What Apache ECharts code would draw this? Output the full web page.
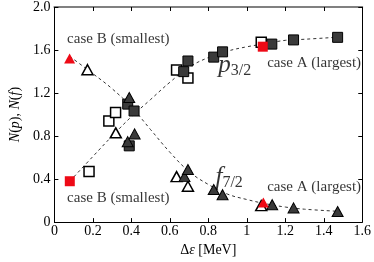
<!DOCTYPE html>
<html>
<head>
<meta charset="utf-8">
<script src="https://cdn.jsdelivr.net/npm/echarts@6/dist/echarts.min.js"></script>
<style>html,body{margin:0;padding:0;background:#fff}#c{width:374px;height:262px}</style>
</head>
<body>
<div id="c"></div>
<script>
// ---- data ----
const xTicks = [0, 0.2, 0.4, 0.6, 0.8, 1, 1.2, 1.4, 1.6];
const yTicks = [0, 0.4, 0.8, 1.2, 1.6, 2.0];

// p3/2 (squares)
const pOpen   = [[0.18,0.47],[0.283,0.94],[0.318,1.02],[0.635,1.414],[0.694,1.34],[1.075,1.673]];
const pFilled = [[0.381,1.097],[0.414,1.033],[0.389,0.709],[0.672,1.399],[0.694,1.498],[0.828,1.534],[0.874,1.583],[1.130,1.655],[1.243,1.694],[1.472,1.718]];
const pRed    = [[0.08,0.38],[1.083,1.631]];
// f7/2 (triangles)
const fOpen   = [[0.172,1.417],[0.319,0.83],[0.635,0.423],[0.694,0.333],[1.075,0.153]];
const fFilled = [[0.389,1.159],[0.381,0.748],[0.417,0.82],[0.676,0.423],[0.694,0.489],[0.828,0.303],[0.874,0.255],[1.132,0.162],[1.243,0.132],[1.472,0.099]];
const fRed    = [[0.079,1.52],[1.086,0.183]];

// dashed guide curves
const curveX = [0.08, 0.2, 0.3, 0.4, 0.5, 0.6, 0.7, 0.8, 0.9, 1.0, 1.1, 1.2, 1.3, 1.48];
const pCurveY = [0.38, 0.61, 0.80, 0.98, 1.14, 1.30, 1.44, 1.53, 1.59, 1.63, 1.66, 1.69, 1.70, 1.72];
const fCurveY = [1.54, 1.38, 1.24, 1.07, 0.86, 0.65, 0.47, 0.35, 0.26, 0.21, 0.17, 0.14, 0.12, 0.10];

// text annotations
const notes = [
  {x:0.066, y:1.70, t:'case B (smallest)'},
  {x:0.066, y:0.228, t:'case B (smallest)'},
  {x:1.106, y:1.48, t:'case A (largest)'},
  {x:1.106, y:0.324, t:'case A (largest)'}
];
const levelLabels = [
  {x:0.852, y:1.46, main:'p', sub:'3/2'},
  {x:0.837, y:0.42, main:'f', sub:'7/2'}
];

// ---- chart ----
const SERIF = 'Liberation Serif';
const chart = echarts.init(document.getElementById('c'));
const axisCommon = {
  min: 0, axisLine:{show:true, onZero:false, lineStyle:{color:'#000', width:1}},
  axisTick:{inside:true, length:4, lineStyle:{color:'#000'}},
  splitLine:{show:false}
};
function sq(data, fill, border, bw, z){
  return {type:'scatter', data, symbol:'rect', symbolSize:10, z,
    itemStyle:{color:fill, borderColor:border, borderWidth:bw, opacity:1}};
}
function tri(data, fill, border, bw, z){
  return {type:'scatter', data, symbol:'triangle', symbolSize:[11,10], z,
    itemStyle:{color:fill, borderColor:border, borderWidth:bw, opacity:1}};
}
const richName = {g:{fontFamily:SERIF, fontSize:14, color:'#000'}, i:{fontFamily:SERIF, fontSize:14, fontStyle:'italic', color:'#000'}};
chart.setOption({
  animation:false,
  textStyle:{fontFamily:SERIF},
  grid:{left:39, right:9, top:6, bottom:34},
  xAxis:[
    Object.assign({}, axisCommon, {type:'value', position:'bottom', max:1.6, interval:0.2,
      name:'{g|Δ}{i|ε} {g|[MeV]}', nameLocation:'middle', nameGap:11,
      nameTextStyle:{fontFamily:SERIF, fontSize:14, rich:richName},
      axisLabel:{fontFamily:SERIF, fontSize:14, color:'#000', margin:2,
        formatter:v=>{const t=xTicks.find(a=>Math.abs(a-v)<1e-6); return t===undefined?'':String(t);}}}),
    Object.assign({}, axisCommon, {type:'value', position:'top', max:1.6, interval:0.2,
      axisLine:{show:true, onZero:false, lineStyle:{color:'#808080', width:2}},
      axisLabel:{show:false}})
  ],
  yAxis:[
    Object.assign({}, axisCommon, {type:'value', position:'left', max:2.0, interval:0.4,
      name:'{i|N}{g|(}{i|p}{g|), }{i|N}{g|(}{i|f}{g|)}', nameLocation:'middle', nameGap:25,
      nameTextStyle:{fontFamily:SERIF, fontSize:14, rich:richName},
      axisLabel:{fontFamily:SERIF, fontSize:14, color:'#000', margin:4,
        formatter:v=>{const t=yTicks.find(a=>Math.abs(a-v)<1e-6); return t===undefined?'':(t===0?'0':t.toFixed(1));}}}),
    Object.assign({}, axisCommon, {type:'value', position:'right', max:2.0, interval:0.4,
      axisLabel:{show:false}})
  ],
  series:[
    {type:'line', data:curveX.map((x,i)=>[x,pCurveY[i]]), smooth:0.4, showSymbol:false, symbol:'none', z:1,
      lineStyle:{color:'#333', width:1, type:[3,3]}},
    {type:'line', data:curveX.map((x,i)=>[x,fCurveY[i]]), smooth:0.4, showSymbol:false, symbol:'none', z:1,
      lineStyle:{color:'#333', width:1, type:[3,3]}},
    sq(pOpen, '#fff', '#000', 1.5, 3),
    tri(fOpen, '#fff', '#000', 1.5, 3),
    sq(pFilled, '#3a3a3a', '#000', 1, 4),
    tri(fFilled, '#3a3a3a', '#000', 1, 4),
    sq(pRed, '#ee0a16', '#ee0a16', 0, 5),
    tri(fRed, '#ee0a16', '#ee0a16', 0, 5),
    {type:'scatter', symbolSize:0, z:6, silent:true,
      data:notes.map(n=>({value:[n.x,n.y], name:n.t})),
      label:{show:true, position:'inside', align:'left', verticalAlign:'middle',
        formatter:p=>p.name, fontFamily:SERIF, fontSize:15, color:'#000'}},
    {type:'scatter', symbolSize:0, z:6, silent:true,
      data:levelLabels.map(n=>({value:[n.x,n.y], name:'{m|'+n.main+'}{s|'+n.sub+'}'})),
      label:{show:true, position:'inside', align:'left', verticalAlign:'middle',
        formatter:p=>p.name, fontFamily:SERIF,
        rich:{m:{fontFamily:SERIF, fontSize:25, fontStyle:'italic', color:'#000'},
              s:{fontFamily:SERIF, fontSize:16, color:'#000', padding:[12,0,0,0]}}}}
  ]
});
</script>
</body>
</html>
